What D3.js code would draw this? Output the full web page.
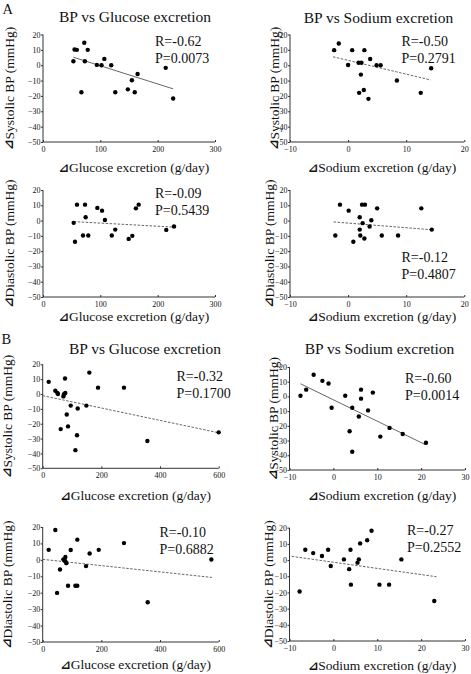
<!DOCTYPE html>
<html><head><meta charset="utf-8">
<script src="https://cdn.jsdelivr.net/npm/d3@7"></script>
<style>
html,body{margin:0;padding:0;background:#fff;}
svg{display:block;}
text{font-family:"Liberation Serif","Times New Roman",serif;fill:#111;}
</style></head>
<body>
<svg id="chart" width="471" height="674"></svg>
<script>
// ---------- DATA ----------
const ySystolicLabel = "⊿Systolic BP (mmHg)";
const yDiastolicLabel = "⊿Diastolic BP (mmHg)";
const xGlucoseLabel = "⊿Glucose excretion (g/day)";
const xSodiumLabel = "⊿Sodium excretion (g/day)";
const titleGlucose = "BP vs Glucose excretion";
const titleSodium = "BP vs Sodium excretion";
const yTicks = [-50, -40, -30, -20, -10, 0, 10, 20];
const xTicksGlucoseA = [0, 100, 200, 300];
const xTicksSodiumA = [-10, 0, 10, 20];
const xTicksGlucoseB = [0, 200, 400, 600];
const xTicksSodiumB = [-10, 0, 10, 20, 30];

// Panel A, top-left: glucose vs systolic
const a1X = [53, 55, 59, 72, 78, 73, 67, 94, 102, 107, 119, 126, 148, 155, 160, 165, 214, 227];
const a1Y = [2.6, 10.2, 10, 14.6, 10, 2.6, -17.6, 0.2, 0, 4.1, 0, -17.6, -15.7, -9.8, -17.6, -5.7, -1.7, -21.7];
const a1Trend = [53, 5.2, 227, -15.4];
const a1Stats = ["R=-0.62", "P=0.0073"];
// Panel A, top-right: sodium vs systolic
const a2X = [-2.4, -1.6, 0, 0.7, 2.8, 1.8, 2.3, 2.2, 1.9, 2.7, 3.5, 3.8, 4.9, 5.6, 8.4, 12.5, 14.3];
const a2Y = [9.8, 14.1, 0.1, 9.8, 9.8, 1.6, 1.6, -6.1, -18, -16.1, -21.9, 4, 0, 0, -10, -18, -2];
const a2Trend = [-2.6, 5.5, 14.2, -9.6];
const a2Stats = ["R=-0.50", "P=0.2791"];
// Panel A, bottom-left: glucose vs diastolic
const a3X = [53.5, 55.8, 59.3, 73.3, 74.4, 69.8, 79, 94.8, 103, 108, 120, 126, 149.4, 155.8, 162, 166.9, 215, 228.5];
const a3Y = [-1.5, -13.9, 10.4, 10.4, 2.2, -9.8, -9.8, 8.3, 6.5, 0.4, -9.8, -5.9, -12, -10, 8, 10.4, -6.1, -3.9];
const a3Trend = [53.5, -0.7, 229.7, -4.3];
const a3Stats = ["R=-0.09", "P=0.5439"];
// Panel A, bottom-right: sodium vs diastolic
const a4X = [-2.2, -1.4, 0.1, 0.9, 2.0, 2.0, 2.1, 2.4, 2.9, 2.5, 2.8, 3.7, 4.0, 5.0, 5.8, 8.6, 12.6, 14.4];
const a4Y = [-9.8, 10.4, 6.5, -13.9, 2.2, -5.9, -9.8, 10.4, 10.4, -1.7, -11.7, -3.9, 0.2, 8, -9.8, -9.8, 8, -5.9];
const a4Trend = [-2.5, -0.9, 14.7, -6.1];
const a4Stats = ["R=-0.12", "P=0.4807"];
// Panel B, top-left: glucose vs systolic
const b1X = [20.5, 43, 50, 52, 70.5, 72.7, 77, 76, 95.5, 82, 61.4, 86.4, 119.3, 117, 111.4, 148.9, 159, 188.6, 277, 356.8, 600];
const b1Y = [8.2, 2.2, 0.7, 0, -1.6, -0.2, 0.7, 10.4, -7.8, -13.8, -23.6, -21.8, -9.8, -27.8, -37.8, -7.8, 14.4, 4.3, 4.3, -31.6, -25.8];
const b1Trend = [0, -1.1, 598, -26];
const b1Stats = ["R=-0.32", "P=0.1700"];
// Panel B, top-right: sodium vs systolic
const b2X = [-7.5, -6.2, -4.5, -2.5, -1.1, -0.4, 2.7, 4.3, 3.7, 4.3, 5.8, 6.3, 6.3, 7.9, 9.0, 10.7, 12.8, 15.8, 21.1];
const b2Y = [0.5, 4.6, 14.7, 10.6, 8.8, -7.7, 0.5, -7.7, -23.7, -37.6, -13.6, 4.6, -1.5, -9.5, 2.6, -27.3, -21.4, -25.5, -31.5];
const b2Trend = [-7.5, 8.6, 21.0, -32.8];
const b2Stats = ["R=-0.60", "P=0.0014"];
// Panel B, bottom-left: glucose vs diastolic
const b3X = [20.5, 43, 49, 59, 70.5, 73.9, 77.3, 77.3, 80.7, 86.4, 95.5, 118, 111.4, 118, 147.7, 160, 191, 277, 358, 575];
const b3Y = [6.1, 18.2, -20.1, -5.9, 0.3, -0.4, 1.7, -0.8, -2, -15.8, 6, 12.3, -15.8, -15.8, -3.8, 3.9, 6.1, 10.2, -25.8, 0.2];
const b3Trend = [0, 0.3, 577, -10.7];
const b3Stats = ["R=-0.10", "P=0.6882"];
// Panel B, bottom-right: sodium vs diastolic
const b4X = [-7.7, -6.4, -4.6, -2.6, -1.2, -0.6, 2.4, 3.6, 3.9, 4.0, 5.5, 5.8, 6.1, 7.7, 8.7, 10.5, 12.7, 15.5, 23.0];
const b4Y = [-19.4, 6.4, 4.3, 2.5, 6.4, -3.7, 0.4, -5.6, 6.4, -15.2, -1.6, 0.4, 10.3, 12.2, 18.1, -15.2, -15.2, 0.4, -25.3];
const b4Trend = [-9.5, 2.3, 23.5, -10.3];
const b4Stats = ["R=-0.27", "P=0.2552"];

// ---------- LAYOUT ----------
const svg = d3.select("#chart");
const panels = [
  {xs:a1X, ys:a1Y, tr:a1Trend, st:a1Stats, solid:true, xd:[0,300], xt:xTicksGlucoseA, xr:[43,215], yr:[142,34.5],
   title:titleGlucose, tx:135, ty:21.7, yl:ySystolicLabel, ylx:8.5, xl:xGlucoseLabel, xly:171.5, sx:155, sy:46},
  {xs:a2X, ys:a2Y, tr:a2Trend, st:a2Stats, solid:false, xd:[-10,20], xt:xTicksSodiumA, xr:[290,464.3], yr:[142,34.5],
   title:titleSodium, tx:378.5, ty:22.5, yl:ySystolicLabel, ylx:273.5, xl:xSodiumLabel, xly:171.5, sx:401.5, sy:46},
  {xs:a3X, ys:a3Y, tr:a3Trend, st:a3Stats, solid:false, xd:[0,300], xt:xTicksGlucoseA, xr:[43,215], yr:[297,190],
   yl:yDiastolicLabel, ylx:8.5, xl:xGlucoseLabel, xly:321, sx:155, sy:198},
  {xs:a4X, ys:a4Y, tr:a4Trend, st:a4Stats, solid:false, xd:[-10,20], xt:xTicksSodiumA, xr:[290,464.3], yr:[297,190],
   yl:yDiastolicLabel, ylx:268.5, xl:xSodiumLabel, xly:321, sx:401.5, sy:262},
  {xs:b1X, ys:b1Y, tr:b1Trend, st:b1Stats, solid:false, xd:[0,600], xt:xTicksGlucoseB, xr:[42.7,218.7], yr:[468.3,364.3],
   title:titleGlucose, tx:145, ty:354, yl:ySystolicLabel, ylx:7, xl:xGlucoseLabel, xly:500, sx:176.5, sy:381},
  {xs:b2X, ys:b2Y, tr:b2Trend, st:b2Stats, solid:true, xd:[-10,30], xt:xTicksSodiumB, xr:[289.5,465], yr:[470,367],
   title:titleSodium, tx:379.5, ty:354, yl:ySystolicLabel, ylx:273, xl:xSodiumLabel, xly:500, sx:405, sy:383},
  {xs:b3X, ys:b3Y, tr:b3Trend, st:b3Stats, solid:false, xd:[0,600], xt:xTicksGlucoseB, xr:[42.7,218.7], yr:[642,527],
   yl:yDiastolicLabel, ylx:7, xl:xGlucoseLabel, xly:669, sx:159.5, sy:537},
  {xs:b4X, ys:b4Y, tr:b4Trend, st:b4Stats, solid:false, xd:[-10,30], xt:xTicksSodiumB, xr:[289.5,465], yr:[641,527.7],
   yl:yDiastolicLabel, ylx:267.5, xl:xSodiumLabel, xly:670, sx:407, sy:535}
];

// section letters
svg.append("text").attr("x", 2.5).attr("y", 13.5).attr("font-size", 14.5).text("A");
svg.append("text").attr("x", 1.5).attr("y", 343.5).attr("font-size", 14.5).text("B");

// label with bold delta sign
function deltaLabel(sel, label) {
  sel.append("tspan").attr("font-weight", "bold").attr("font-family", "DejaVu Sans").attr("font-size", "0.9em").text(label.slice(0, 1));
  sel.append("tspan").text(label.slice(1));
}

panels.forEach(p => {
  const x = d3.scaleLinear().domain(p.xd).range(p.xr);
  const y = d3.scaleLinear().domain([-50, 20]).range(p.yr);
  const g = svg.append("g");

  // y axis
  const ya = g.append("g").attr("transform", `translate(${p.xr[0]},0)`)
    .call(d3.axisLeft(y).tickValues(yTicks).tickSize(2).tickPadding(0.5).tickFormat(d3.format("d")));
  ya.select(".domain").attr("stroke", "#333").attr("d", `M0,${p.yr[0]}V${p.yr[1]}`);
  ya.selectAll(".tick line").attr("stroke", "#333");
  ya.selectAll("text").attr("font-family", "Liberation Serif").attr("font-size", 8).attr("fill", "#222");

  // x axis
  const xa = g.append("g").attr("transform", `translate(0,${p.yr[0]})`)
    .call(d3.axisBottom(x).tickValues(p.xt).tickSize(-2).tickPadding(4).tickFormat(d3.format("d")));
  xa.select(".domain").attr("stroke", "#333").attr("d", `M${p.xr[0]},0H${p.xr[1]}`);
  xa.selectAll(".tick line").attr("stroke", "#333");
  xa.selectAll("text").attr("font-family", "Liberation Serif").attr("font-size", 8).attr("fill", "#222");

  // trend line
  g.append("line")
    .attr("x1", x(p.tr[0])).attr("y1", y(p.tr[1]))
    .attr("x2", x(p.tr[2])).attr("y2", y(p.tr[3]))
    .attr("stroke", "#555").attr("stroke-width", 0.9)
    .attr("stroke-dasharray", p.solid ? null : "2.5,1.5");

  // points
  g.selectAll("circle").data(d3.zip(p.xs, p.ys)).enter().append("circle")
    .attr("cx", d => x(d[0])).attr("cy", d => y(d[1])).attr("r", 2.2).attr("fill", "#000");

  // stats
  g.append("text").attr("x", p.sx).attr("y", p.sy).attr("font-size", 14).text(p.st[0]);
  g.append("text").attr("x", p.sx).attr("y", p.sy + 16.5).attr("font-size", 14).text(p.st[1]);

  // title
  if (p.title) {
    g.append("text").attr("x", p.tx).attr("y", p.ty).attr("text-anchor", "middle")
      .attr("font-size", 15.5).text(p.title);
  }
  // y label
  const yc = (p.yr[0] + p.yr[1]) / 2;
  const ylt = g.append("text").attr("transform", `translate(${p.ylx},${yc}) rotate(-90)`)
    .attr("text-anchor", "middle").attr("dominant-baseline", "central")
    .attr("font-size", 13.5);
  deltaLabel(ylt, p.yl);
  // x label
  const xc = (p.xr[0] + p.xr[1]) / 2 + 5;
  const xlt = g.append("text").attr("x", xc).attr("y", p.xly).attr("text-anchor", "middle")
    .attr("font-size", 13.5);
  deltaLabel(xlt, p.xl);
});
</script>
</body></html>
